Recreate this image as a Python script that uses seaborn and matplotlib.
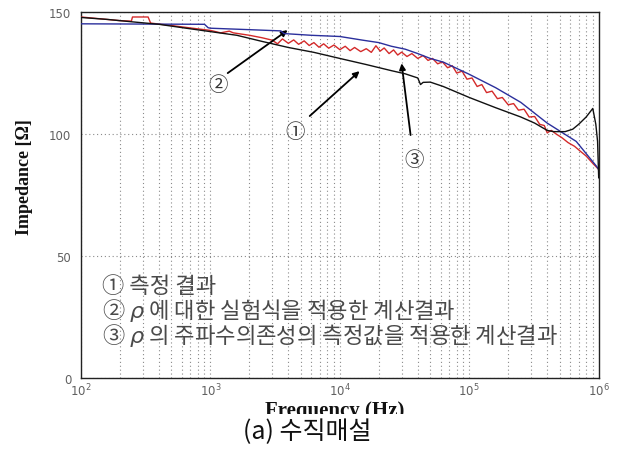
import numpy as np
import pandas as pd
import matplotlib
matplotlib.use("Agg")
import matplotlib.pyplot as plt
import seaborn as sns
from matplotlib.ticker import LogLocator, FixedLocator, NullLocator
from matplotlib.patches import Rectangle

# ---------------- data ----------------
f_measured = [100, 160, 250, 400, 630, 1000, 1600, 2500, 4000, 6300, 10000,
              16000, 25000, 32000, 40000, 42000, 44000, 50000, 63000, 100000,
              160000, 250000, 320000, 400000, 450000, 550000, 630000, 700000,
              800000, 900000, 950000, 980000, 1000000]
z_measured = [147.8, 147.0, 146.0, 145.0, 143.5, 142.0, 140.5, 138.0, 135.5,
              133.5, 131.0, 128.5, 126.0, 124.7, 123.0, 120.3, 121.2, 121.3,
              119.5, 115.0, 110.8, 107.0, 104.5, 101.5, 101.0, 101.0, 102.0,
              104.0, 107.0, 110.5, 104.0, 97.0, 82.0]

f_empirical = [100, 900, 960, 1000, 2000, 3500, 3700, 6000, 10000, 15000,
               20000, 25000, 32000, 40000, 50000, 63000, 100000, 160000,
               250000, 400000, 670000, 955000, 1000000]
z_empirical = [145.2, 145.0, 143.6, 143.4, 142.8, 142.3, 141.2, 140.5, 140.0,
               138.5, 137.5, 136.0, 134.8, 133.0, 131.0, 129.5, 124.5, 119.0,
               113.0, 104.5, 97.0, 87.0, 85.5]

f_freqdep = [100, 200, 245, 250, 330, 345, 500, 700, 1000, 1200, 1400, 1500,
             2000, 2500, 3000, 3300, 3600, 4000, 4400, 4800, 5300, 5800, 6300,
             6900, 7500, 8200, 9000, 10000, 11000, 12000, 13000, 14500, 16000,
             17500, 19000, 20500, 22000, 24000, 26000, 28000, 30000, 33000,
             36000, 40000, 44000, 48000, 52000, 57000, 62000, 68000, 74000,
             80000, 88000, 96000, 105000, 115000, 125000, 136000, 150000,
             165000, 180000, 200000, 220000, 240000, 265000, 290000, 320000,
             350000, 380000, 400000, 430000, 470000, 520000, 580000, 650000,
             720000, 800000, 900000, 1000000]
z_freqdep = [148.0, 146.5, 146.3, 148.0, 148.0, 145.5, 144.5, 143.5, 142.5,
             141.5, 142.2, 141.5, 140.5, 139.5, 138.5, 137.0, 139.0, 137.2,
             138.6, 136.8, 138.2, 136.3, 137.5, 135.6, 137.0, 135.2, 136.5,
             134.6, 136.0, 134.2, 135.5, 133.8, 135.0, 133.5, 136.2, 134.0,
             135.3, 133.0, 134.5, 132.4, 133.6, 131.8, 133.0, 131.0, 132.2,
             130.2, 131.0, 128.8, 129.6, 127.2, 128.0, 125.0, 125.8, 122.5,
             123.0, 119.5, 120.3, 117.0, 117.6, 114.5, 115.0, 112.0, 112.5,
             109.8, 110.2, 107.0, 107.2, 104.0, 103.5, 100.5, 101.5, 100.0,
             98.5, 96.5, 95.0, 93.0, 91.0, 88.0, 85.5]

y_ticks = [0, 50, 100, 150]
legend_lines = ["① 측정 결과",
                "② $\\rho$ 에 대한 실험식을 적용한 계산결과",
                "③ $\\rho$ 의 주파수의존성의 측정값을 적용한 계산결과"]
x_label = "Frequency (Hz)"
y_label = "Impedance [Ω]"
caption = "(a) 수직매설"

# annotation: label, label position (f, Z), arrow tail (f, Z), arrow head (f, Z)
annotations = [
    ("②", (1140, 120.5), (1360, 125.0), (3950, 142.6)),
    ("①", (4480, 101.2), (5850, 107.4), (14200, 125.8)),
    ("③", (37800, 89.7), (35200, 99.6), (30000, 129.0)),
]

# ---------------- plotting ----------------
sns.set_theme(style="white")
plt.rcParams['font.family'] = ['DejaVu Sans']

fig = plt.figure(figsize=(6.23, 4.52), dpi=100)
ax = fig.add_axes([0.130, 0.1615, 0.831, 0.8095])

df_m = pd.DataFrame({"f": f_measured, "z": z_measured})
df_e = pd.DataFrame({"f": f_empirical, "z": z_empirical})
df_d = pd.DataFrame({"f": f_freqdep, "z": z_freqdep})

sns.lineplot(data=df_d, x="f", y="z", ax=ax, color="#d42a2a", lw=1.0,
             estimator=None, sort=False, zorder=3)
sns.lineplot(data=df_e, x="f", y="z", ax=ax, color="#2b2f9c", lw=1.0,
             estimator=None, sort=False, zorder=4)
sns.lineplot(data=df_m, x="f", y="z", ax=ax, color="#111111", lw=1.0,
             estimator=None, sort=False, zorder=5)

ax.set_xscale("log")
ax.set_xlim(1e2, 1e6)
ax.set_ylim(0, 150)
ax.yaxis.set_major_locator(FixedLocator(y_ticks))
ax.yaxis.set_minor_locator(NullLocator())
ax.xaxis.set_major_locator(LogLocator(base=10, numticks=10))
ax.xaxis.set_minor_locator(LogLocator(base=10, subs=np.arange(2, 10), numticks=20))

grid_kw = dict(color="#8a8a8a", linestyle=(0, (1, 2.5)), linewidth=0.8)
ax.grid(True, which="major", axis="both", **grid_kw)
ax.grid(True, which="minor", axis="x", **grid_kw)
ax.set_axisbelow(True)

for s in ax.spines.values():
    s.set_color("#222222")
    s.set_linewidth(1.0)

ax.tick_params(axis="both", which="major", direction="in", length=4,
               labelsize=8.5, labelcolor="#606060", color="#333333", pad=7)
ax.tick_params(axis="x", which="minor", direction="in", length=2.5,
               color="#333333")
ax.tick_params(axis="x", which="major", pad=3)

ax.set_xlabel(x_label, fontsize=15, fontweight="bold",
              family="Liberation Serif", color="#111111")
ax.xaxis.set_label_coords(0.49, -0.061)
ax.set_ylabel(y_label, fontsize=13, fontweight="bold",
              family="Liberation Serif", color="#111111")
ax.yaxis.set_label_coords(-0.092, 0.552)

cjk = ['Noto Sans CJK KR', 'DejaVu Sans']
for i, line in enumerate(legend_lines):
    ax.text(0.040, 0.254 - i * 0.068, line, transform=ax.transAxes,
            fontsize=16, family=cjk, color="#4a4a4a", fontweight="light",
            va="center", ha="left")

for lab, lpos, tail, head in annotations:
    ax.annotate("", xy=head, xytext=tail, xycoords="data",
                arrowprops=dict(arrowstyle="-|>", color="black", lw=1.3,
                                mutation_scale=9, shrinkA=0, shrinkB=0))
    ax.text(lpos[0], lpos[1], lab, fontsize=14, family=cjk, color="#333333",
            ha="center", va="center", fontweight="light")

# white band that clips the bottom of the axis label, as in the original
fig.patches.append(Rectangle((0, 0), 1, 1 - 415 / 452, transform=fig.transFigure,
                             facecolor="white", edgecolor="none", zorder=10))
fig.text(307 / 623, 1 - 432 / 452, caption, fontsize=18, family=cjk,
         color="#111111", ha="center", va="center", zorder=11,
         fontweight="light")

fig.savefig("out.png", dpi=100, facecolor="white")
